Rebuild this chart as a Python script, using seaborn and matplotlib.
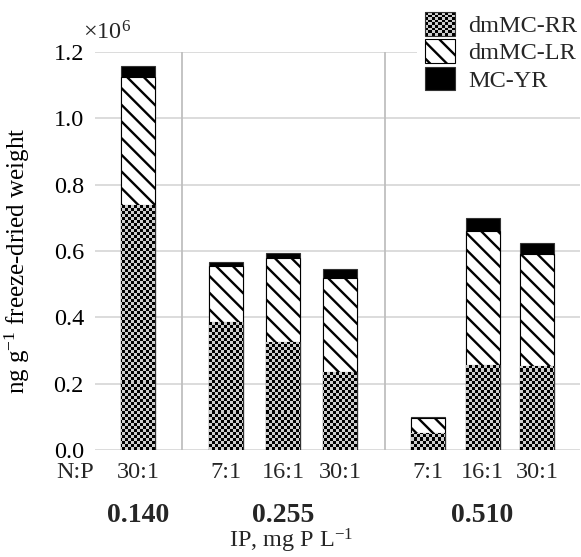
import matplotlib
matplotlib.use("Agg")
import matplotlib.pyplot as plt
import numpy as np
import pandas as pd
import seaborn as sns
from matplotlib.colors import ListedColormap
from matplotlib.legend_handler import HandlerBase
from matplotlib.patches import Patch, Rectangle

# --- data (ng g-1 freeze-dried weight) ---
ip_levels = ["0.140", "0.255", "0.510"]
np_ratios = [["30:1"], ["7:1", "16:1", "30:1"], ["7:1", "16:1", "30:1"]]
dmmc_rr = [740000, 386000, 326000, 235000, 52000, 256000, 253000]
dmmc_lr = [385000, 169000, 253000, 284000, 43000, 404000, 339000]
mc_yr = [33000, 12000, 15000, 27000, 5000, 40000, 33000]

# --- layout ---
W, H = 581, 557
AX_L, AX_R, AX_T, AX_B = 95, 580, 52, 450       # axes box in pixels
UNIT = 57.7                                     # pixels per x unit
panel_edges = [0, 1.5, 5.03, (AX_R - AX_L) / UNIT]
BAR_W = 34 / UNIT
FS = 17.5

sns.set_theme(style="white")
plt.rcParams["font.family"] = ["Liberation Serif", "DejaVu Serif"]
plt.rcParams["mathtext.fontset"] = "custom"
plt.rcParams["mathtext.rm"] = "Liberation Serif"
plt.rcParams["mathtext.it"] = "Liberation Serif:italic"
plt.rcParams["mathtext.bf"] = "Liberation Serif:bold"
plt.rcParams["hatch.linewidth"] = 1.7
plt.rcParams["hatch.color"] = "black"

# bar x positions: centred in each IP panel
bar_x, centers = [], []
for lo, hi, cats in zip(panel_edges[:-1], panel_edges[1:], np_ratios):
    c = (lo + hi) / 2
    step = 0.28 * (hi - lo)
    centers.append(c)
    n = len(cats)
    bar_x += [c + (i - (n - 1) / 2) * step for i in range(n)]

df = pd.DataFrame({"x": bar_x, "rr": dmmc_rr, "lr": dmmc_lr, "yr": mc_yr})
df["rr_lr"] = df["rr"] + df["lr"]
df["total"] = df["rr_lr"] + df["yr"]

fig = plt.figure(figsize=(W / 100, H / 100), dpi=100)
ax = fig.add_axes([AX_L / W, 1 - AX_B / H, (AX_R - AX_L) / W, (AX_B - AX_T) / H])

width = BAR_W / np.diff(np.sort(df["x"].values)).min()
common = dict(data=df, x="x", native_scale=True, orient="x", errorbar=None,
              width=width, saturation=1, ax=ax)
sns.barplot(y="total", color="black", edgecolor="#333333", linewidth=0.8, **common)
sns.barplot(y="rr_lr", color="white", edgecolor="black", linewidth=0.8,
            hatch="\\\\", **common)
sns.barplot(y="rr", color="black", edgecolor="#333333", linewidth=0.8, **common)
rr_patches = ax.patches[-len(df):]

xlim = (0, panel_edges[-1])
ylim = (0, 1.2e6)

# checkerboard fill for dmMC-RR
ncx, ncy = int((AX_R - AX_L) / 3), int((AX_B - AX_T) / 3)
checker = np.indices((ncy, ncx)).sum(axis=0) % 2
checker_cmap = ListedColormap(["black", "#cccccc"])
for p in rr_patches:
    im = ax.imshow(checker, cmap=checker_cmap, extent=(*xlim, *ylim), aspect="auto",
                   interpolation="nearest", zorder=1.5)
    im.set_clip_path(p)

ax.set_xlim(*xlim)
ax.set_ylim(*ylim)
ax.set_axisbelow(True)
ax.yaxis.grid(True, color="#d9d9d9", linewidth=1.3)
ax.xaxis.grid(False)
for edge in panel_edges[1:-1]:
    ax.axvline(edge, color="#bfbfbf", linewidth=1.3, zorder=0.6)
for s in ax.spines.values():
    s.set_visible(False)

ax.set_yticks(np.arange(0, 1.21e6, 0.2e6))
ax.yaxis.set_major_formatter(plt.FuncFormatter(lambda v, _: f"{v / 1e6:.1f}"))
ax.tick_params(axis="y", length=0, pad=8, labelsize=FS, labelcolor="black")
ax.set_xticks([])
ax.set_xlabel("")
ax.set_ylabel("ng g$^{-1}$ freeze-dried weight", fontsize=18, color="black")
ax.yaxis.set_label_coords((32 - AX_L) / (AX_R - AX_L), (AX_B - 261) / (AX_B - AX_T))

# x10^6 multiplier
fig.text(83 / W, 1 - 40 / H, "×10$^{6}$", fontsize=FS, ha="left", va="baseline")

# category labels
xt = ax.get_xaxis_transform()
y_np = -(473 - AX_B) / (AX_B - AX_T)
y_ip = -(515 - AX_B) / (AX_B - AX_T)
ax.text(-(AX_L - 75) / UNIT, y_np, "N:P", transform=xt, ha="center", va="center", fontsize=FS)
for x, lab in zip(bar_x, sum(np_ratios, [])):
    ax.text(x, y_np, lab, transform=xt, ha="center", va="center", fontsize=FS)
for c, lab in zip(centers, ip_levels):
    ax.text(c, y_ip, lab, transform=xt, ha="center", va="center", fontsize=20,
            fontweight="bold")
fig.text(291 / W, 1 - 541 / H, "IP, mg P L$^{-1}$", ha="center", va="center", fontsize=FS)


class CheckerHandler(HandlerBase):
    def create_artists(self, legend, orig_handle, xdescent, ydescent, width, height,
                       fontsize, trans):
        n = 9
        cw, ch = width / n, height / n
        x0, y0 = -xdescent, -ydescent
        arts = [Rectangle((x0, y0), width, height, facecolor="#cccccc",
                          edgecolor="none", transform=trans)]
        for i in range(n):
            for j in range(n):
                if (i + j) % 2 == 0:
                    arts.append(Rectangle((x0 + i * cw, y0 + j * ch), cw, ch,
                                          facecolor="black", edgecolor="none",
                                          transform=trans))
        arts.append(Rectangle((x0, y0), width, height, facecolor="none",
                              edgecolor="#333333", linewidth=0.8, transform=trans))
        return arts


rr_handle = Patch(facecolor="black")
handles = [
    rr_handle,
    Patch(facecolor="white", edgecolor="black", hatch="\\\\", linewidth=0.8),
    Patch(facecolor="black", edgecolor="#333333", linewidth=0.8),
]
leg = ax.legend(handles, ["dmMC-RR", "dmMC-LR", "MC-YR"],
                handler_map={rr_handle: CheckerHandler()},
                loc="upper left", bbox_to_anchor=(417 / W, 1 - 4 / H),
                bbox_transform=fig.transFigure, fontsize=FS, frameon=True,
                facecolor="white", edgecolor="none", framealpha=1, fancybox=False,
                borderpad=0.33, borderaxespad=0, handlelength=1.23, handleheight=1.11,
                labelspacing=0.1, handletextpad=0.53)

fig.savefig("out.png", dpi=100)
